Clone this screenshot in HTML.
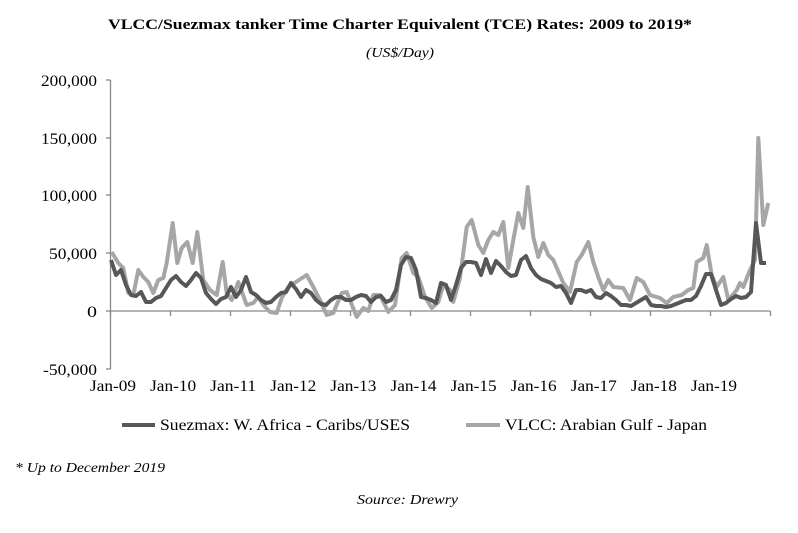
<!DOCTYPE html>
<html><head><meta charset="utf-8"><style>
html,body{margin:0;padding:0;background:#fff;}
svg{display:block;font-family:"Liberation Serif",serif;}
</style></head><body>
<svg id="s" width="798" height="533" viewBox="0 0 798 533" xmlns="http://www.w3.org/2000/svg">
<text x="400" y="29" text-anchor="middle" font-size="15" font-weight="bold" textLength="584" lengthAdjust="spacingAndGlyphs">VLCC/Suezmax tanker Time Charter Equivalent (TCE) Rates: 2009 to 2019*</text>
<text x="400" y="57" text-anchor="middle" font-size="14" font-style="italic" textLength="68" lengthAdjust="spacingAndGlyphs">(US$/Day)</text>
<g font-size="16" text-anchor="end">
<text x="97" y="86" textLength="56" lengthAdjust="spacingAndGlyphs">200,000</text>
<text x="97" y="144" textLength="56" lengthAdjust="spacingAndGlyphs">150,000</text>
<text x="97" y="201" textLength="56" lengthAdjust="spacingAndGlyphs">100,000</text>
<text x="97" y="259" textLength="48" lengthAdjust="spacingAndGlyphs">50,000</text>
<text x="97" y="317" textLength="10" lengthAdjust="spacingAndGlyphs">0</text>
<text x="97" y="375" textLength="54" lengthAdjust="spacingAndGlyphs">-50,000</text>
</g>
<g stroke="#888" stroke-width="1.3" fill="none">
<line x1="110.5" y1="80" x2="110.5" y2="369"/>
<line x1="106" y1="80" x2="110.5" y2="80"/><line x1="106" y1="138" x2="110.5" y2="138"/>
<line x1="106" y1="195" x2="110.5" y2="195"/><line x1="106" y1="253" x2="110.5" y2="253"/>
<line x1="106" y1="311" x2="110.5" y2="311"/><line x1="106" y1="369" x2="110.5" y2="369"/>
<line x1="110" y1="311" x2="770" y2="311"/>
<g id="ticks"></g>
</g>
<g font-size="16" text-anchor="middle" id="xl"></g>
<polyline id="light" fill="none" stroke="#a6a6a6" stroke-width="4" stroke-linejoin="round" points="111.7,252 118.3,263 123.3,268 128.3,293 133.3,295 138.3,270 143.3,277 148.3,282 153.3,293 158.3,280 163.3,278 166.7,263 172.7,223 177.3,263 181.7,248 187.3,242 192.7,263 197.3,232 203.3,280 210,290 216.7,295 222.7,262 226.7,293 231.7,300 238.3,282 246.7,305 253.3,303 258.3,297 263.3,305 270,312 276.7,313 281.7,298 288.3,287 306.7,275 313.3,287 320,300 326.7,315 333.3,313 341.7,293 346.7,292 356.7,317 363.3,308 368.3,311 373.3,295 380,295 388.3,312 395,305 401.7,258 406.7,253 413.3,273 418.3,277 425,297 431.7,308 438.3,302 443.3,285 450,290 453.3,302 460,278 466.7,227 471.7,220 478.3,245 483.3,253 488.3,240 493.3,232 498.3,235 503.3,222 508.3,268 513.3,240 518.3,213 523.3,228 527.7,187 533.3,237 538.3,257 543.3,243 548.3,255 553.3,260 563.3,283 570,292 576.7,262 581.7,255 588.3,242 593.3,262 598.3,277 603.3,290 608.3,280 613.3,287 623.3,288 630,300 636.7,278 643.3,282 650,295 660,298 666.7,303 673.3,297 681.7,295 688.3,290 693.3,288 696.7,262 703.3,258 706.7,245 711.7,275 716.7,287 723.3,277 728.3,300 736.7,290 740,283 743.3,287 750,270 755,260 758.3,138 763.3,225 768.3,203"/>
<polyline id="dark" fill="none" stroke="#575757" stroke-width="4" stroke-linejoin="round" points=""/>
<line x1="122" y1="425" x2="155" y2="425" stroke="#575757" stroke-width="4"/>
<text x="160" y="430" font-size="16" textLength="250" lengthAdjust="spacingAndGlyphs">Suezmax: W. Africa - Caribs/USES</text>
<line x1="466" y1="425" x2="500" y2="425" stroke="#a6a6a6" stroke-width="4"/>
<text x="505" y="430" font-size="16" textLength="202" lengthAdjust="spacingAndGlyphs">VLCC: Arabian Gulf - Japan</text>
<text x="15" y="472" font-size="14" font-style="italic" textLength="150" lengthAdjust="spacingAndGlyphs">* Up to December 2019</text>
<text x="357" y="504" font-size="14" font-style="italic" textLength="101" lengthAdjust="spacingAndGlyphs">Source: Drewry</text>
</svg>
<script>
var d=[260,275,270,285,295,296,292,302,302,298,296,288,
280,276,282,286,280,273,278,293,299,304,299,297,
287,297,290,277,292,295,300,303,302,297,293,292,
283,289,297,290,293,300,304,305,300,297,297,300,
300,297,295,296,302,297,296,302,300,290,265,257,
258,270,297,298,300,303,283,285,300,285,268,262,
262,263,275,259,273,261,266,272,276,275,260,256,
268,275,279,281,283,287,286,293,303,290,290,292,
290,297,298,293,296,300,305,305,306,303,300,297,
305,306,306,307,306,304,302,300,300,296,286,274,
274,290,305,303,299,296,298,297,292,223,263,263];
var p=d.map(function(y,i){return (111+5*i)+","+y;}).join(" ");
document.getElementById("dark").setAttribute("points",p);
var ns="http://www.w3.org/2000/svg",t=document.getElementById("ticks"),xl=document.getElementById("xl");
for(var k=0;k<=11;k++){var x=110.5+60*k;var l=document.createElementNS(ns,"line");l.setAttribute("x1",x);l.setAttribute("x2",x);l.setAttribute("y1",311);l.setAttribute("y2",316);t.appendChild(l);
if(k<11){var tx=document.createElementNS(ns,"text");tx.setAttribute("x",113+60.1*k);tx.setAttribute("y",391);tx.setAttribute("textLength",46);tx.setAttribute("lengthAdjust","spacingAndGlyphs");tx.textContent="Jan-"+(k+9<10?"0":"")+(k+9);xl.appendChild(tx);}}
</script>
</body></html>
